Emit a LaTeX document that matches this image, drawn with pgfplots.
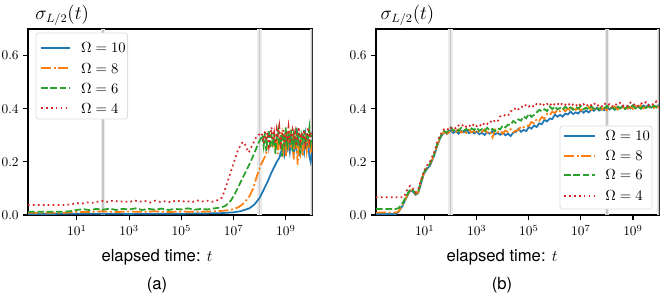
\documentclass[border=0pt]{standalone}
\usepackage{fontspec}
\setmainfont{TeX Gyre Heros}
\usepackage{pgfplots}
\pgfplotsset{compat=1.18}
\definecolor{tabblue}{HTML}{1F77B4}
\definecolor{taborange}{HTML}{FF7F0E}
\definecolor{tabgreen}{HTML}{2CA02C}
\definecolor{tabred}{HTML}{D62728}
\pgfplotsset{
  myaxis/.style={
    scale only axis, width=213pt, height=139.5pt,
    xmin=-0.87, xmax=10, ymin=0, ymax=0.7,
    xtick={1,3,5,7,9},
    xticklabels={$10^{1}$,$10^{3}$,$10^{5}$,$10^{7}$,$10^{9}$},
    ytick={0,0.2,0.4,0.6},
    yticklabel style={/pgf/number format/fixed,/pgf/number format/fixed zerofill,/pgf/number format/precision=1},
    tick pos=left, tick align=outside,
    major tick length=3.5pt,
    every tick/.style={black, line width=0.8pt},
    axis line style={line width=1pt},
    ticklabel style={font=\fontsize{10}{11}\selectfont},
    xticklabel style={yshift=-0.5pt},
  },
  s10/.style={forget plot, draw=tabblue, line width=1.3pt, solid},
  s8/.style={forget plot, draw=taborange, line width=1.3pt, dash pattern=on 7.5pt off 2pt on 1.5pt off 2pt},
  s6/.style={forget plot, draw=tabgreen, line width=1.3pt, dash pattern=on 5pt off 2pt},
  s4/.style={forget plot, draw=tabred, line width=1.3pt, dash pattern=on 1.3pt off 2.4pt},
  gl/.style={forget plot, black!8, line width=3.5pt},
  gd/.style={forget plot, black!22, line width=1.1pt},
  lframe/.style={forget plot, fill=white, draw=black!13, line width=0.6pt, rounded corners=2pt},
}
\tikzset{legtext/.style={anchor=west, font=\fontsize{10.5}{12}\selectfont, inner sep=0pt}}
\begin{document}
\begin{tikzpicture}
\useasboundingbox (0,0) rectangle (498pt,221.25pt);
% ---------------- panel (a)
\begin{axis}[myaxis, at={(21pt,60pt)}, anchor=south west]
\addplot[gl] coordinates {(2,0) (2,0.7)};
\addplot[gd] coordinates {(2,0) (2,0.7)};
\addplot[gl] coordinates {(8,0) (8,0.7)};
\addplot[gd] coordinates {(8,0) (8,0.7)};
\addplot[gl] coordinates {(10,0) (10,0.7)};
\addplot[gd] coordinates {(10,0) (10,0.7)};
\addplot[s10] coordinates {(-0.87,0.004) (0,0.004) (1,0.005) (2,0.005) (3,0.004) (4,0.005) (5,0.005) (6,0.006) (6.5,0.007) (7,0.010) (7.3,0.015) (7.6,0.025) (7.8,0.040) (8.0,0.065) (8.15,0.095) (8.3,0.125) (8.45,0.160) (8.55,0.180) (8.65,0.200) (8.75,0.215) (8.8,0.235) (8.85,0.24) (8.9,0.26) (8.95,0.23) (9.0,0.27) (9.05,0.25) (9.1,0.28) (9.15,0.24) (9.2,0.29) (9.25,0.26) (9.3,0.23) (9.35,0.28) (9.4,0.25) (9.45,0.30) (9.5,0.26) (9.55,0.22) (9.6,0.29) (9.65,0.27) (9.7,0.24) (9.75,0.30) (9.8,0.26) (9.85,0.28) (9.9,0.22) (9.95,0.20) (10,0.24)};
\addplot[s8] coordinates {(-0.87,0.008) (0.5,0.008) (1,0.012) (1.5,0.011) (2,0.014) (2.5,0.011) (3,0.013) (3.5,0.012) (4,0.014) (4.5,0.011) (5,0.013) (5.5,0.012) (6,0.013) (6.5,0.015) (6.8,0.018) (7.0,0.022) (7.2,0.030) (7.4,0.045) (7.6,0.070) (7.75,0.100) (7.9,0.150) (8.05,0.190) (8.2,0.220) (8.3,0.250) (8.4,0.265) (8.5,0.26) (8.55,0.28) (8.6,0.25) (8.65,0.29) (8.7,0.23) (8.75,0.28) (8.8,0.26) (8.85,0.30) (8.9,0.24) (8.95,0.28) (9.0,0.22) (9.05,0.29) (9.1,0.26) (9.15,0.30) (9.2,0.25) (9.25,0.28) (9.3,0.21) (9.35,0.27) (9.4,0.30) (9.45,0.19) (9.5,0.28) (9.55,0.24) (9.6,0.30) (9.65,0.22) (9.7,0.27) (9.75,0.29) (9.8,0.24) (9.85,0.28) (9.9,0.26) (9.95,0.23) (10,0.27)};
\addplot[s6] coordinates {(-0.87,0.012) (0.5,0.012) (0.8,0.015) (1.0,0.019) (1.25,0.022) (1.5,0.018) (1.75,0.023) (2.0,0.020) (2.25,0.024) (2.5,0.019) (2.75,0.023) (3.0,0.021) (3.25,0.025) (3.5,0.019) (3.75,0.023) (4.0,0.020) (4.25,0.024) (4.5,0.019) (4.75,0.023) (5.0,0.021) (5.25,0.025) (5.5,0.020) (5.75,0.023) (6.0,0.021) (6.25,0.025) (6.5,0.028) (6.7,0.035) (6.9,0.055) (7.05,0.080) (7.2,0.110) (7.35,0.140) (7.5,0.170) (7.65,0.200) (7.8,0.235) (7.95,0.270) (8.05,0.290) (8.1,0.30) (8.15,0.26) (8.2,0.31) (8.25,0.24) (8.3,0.29) (8.35,0.32) (8.4,0.25) (8.45,0.30) (8.5,0.27) (8.55,0.31) (8.6,0.23) (8.65,0.29) (8.7,0.32) (8.75,0.26) (8.8,0.30) (8.85,0.22) (8.9,0.31) (8.95,0.27) (9.0,0.33) (9.05,0.25) (9.1,0.30) (9.15,0.28) (9.2,0.32) (9.25,0.24) (9.3,0.30) (9.35,0.27) (9.4,0.33) (9.45,0.26) (9.5,0.31) (9.55,0.23) (9.6,0.30) (9.65,0.28) (9.7,0.32) (9.75,0.25) (9.8,0.31) (9.85,0.29) (9.9,0.33) (9.95,0.27) (10,0.30)};
\addplot[s4] coordinates {(-0.87,0.038) (0.5,0.038) (0.8,0.040) (1.0,0.045) (1.2,0.043) (1.4,0.047) (1.6,0.046) (1.8,0.050) (2.0,0.053) (2.2,0.049) (2.4,0.055) (2.6,0.050) (2.8,0.052) (3.0,0.048) (3.2,0.055) (3.4,0.050) (3.6,0.053) (3.8,0.047) (4.0,0.054) (4.2,0.049) (4.4,0.052) (4.6,0.048) (4.8,0.055) (5.0,0.050) (5.2,0.053) (5.4,0.048) (5.6,0.055) (5.8,0.051) (6.0,0.054) (6.2,0.050) (6.4,0.056) (6.55,0.065) (6.65,0.090) (6.75,0.120) (6.85,0.150) (6.95,0.180) (7.05,0.210) (7.15,0.240) (7.25,0.260) (7.35,0.275) (7.42,0.270) (7.5,0.250) (7.58,0.235) (7.65,0.250) (7.75,0.270) (7.85,0.290) (7.95,0.300) (8.05,0.310) (8.1,0.30) (8.15,0.27) (8.2,0.32) (8.25,0.28) (8.3,0.31) (8.35,0.26) (8.4,0.30) (8.45,0.33) (8.5,0.28) (8.55,0.31) (8.6,0.27) (8.65,0.32) (8.7,0.29) (8.75,0.33) (8.8,0.27) (8.85,0.30) (8.9,0.32) (8.95,0.26) (9.0,0.31) (9.05,0.29) (9.1,0.33) (9.15,0.27) (9.2,0.30) (9.25,0.32) (9.3,0.28) (9.35,0.31) (9.4,0.26) (9.45,0.30) (9.5,0.33) (9.55,0.28) (9.6,0.31) (9.65,0.29) (9.7,0.32) (9.75,0.27) (9.8,0.30) (9.85,0.33) (9.9,0.28) (9.95,0.31) (10,0.30)};
% legend (a)
\addplot[lframe] coordinates {(1.19,0.685) (2.944,0.685) (2.944,0.361) (-0.565,0.361) (-0.565,0.685) (1.19,0.685)};
\addplot[s10] coordinates {(-0.374,0.6296) (0.732,0.6296)};
\addplot[s8] coordinates {(-0.374,0.552) (0.732,0.552)};
\addplot[s6] coordinates {(-0.374,0.4768) (0.732,0.4768)};
\addplot[s4] coordinates {(-0.374,0.4015) (0.732,0.4015)};
\node[legtext] at (axis cs:1.151,0.6296) {$\Omega = 10$};
\node[legtext] at (axis cs:1.151,0.552) {$\Omega = 8$};
\node[legtext] at (axis cs:1.151,0.4768) {$\Omega = 6$};
\node[legtext] at (axis cs:1.151,0.4015) {$\Omega = 4$};
\end{axis}
% ---------------- panel (b)
\begin{axis}[myaxis, at={(282pt,60pt)}, anchor=south west, width=212.25pt]
\addplot[gl] coordinates {(2,0) (2,0.7)};
\addplot[gd] coordinates {(2,0) (2,0.7)};
\addplot[gl] coordinates {(8,0) (8,0.7)};
\addplot[gd] coordinates {(8,0) (8,0.7)};
\addplot[gl] coordinates {(10,0) (10,0.7)};
\addplot[gd] coordinates {(10,0) (10,0.7)};
\addplot[s10] coordinates {(-0.87,0.004) (-0.1,0.004) (0.0,0.012) (0.15,0.035) (0.3,0.065) (0.44,0.092) (0.55,0.088) (0.65,0.076) (0.75,0.082) (0.85,0.115) (0.97,0.155) (1.1,0.175) (1.2,0.185) (1.36,0.222) (1.5,0.265) (1.6,0.29) (1.74,0.312) (1.85,0.305) (1.95,0.318)
(2.0,0.318) (2.1,0.309) (2.2,0.315) (2.3,0.306) (2.4,0.317) (2.5,0.311) (2.6,0.320) (2.7,0.308) (2.8,0.314) (2.9,0.307) (3.0,0.314) (3.1,0.304) (3.2,0.310) (3.3,0.301) (3.4,0.312) (3.5,0.306) (3.6,0.315) (3.7,0.303) (3.8,0.309) (3.9,0.302) (4.0,0.310) (4.1,0.300) (4.2,0.306) (4.3,0.297) (4.4,0.310) (4.5,0.313) (4.6,0.324) (4.7,0.313) (4.8,0.320) (4.9,0.316) (5.0,0.331) (5.1,0.325) (5.2,0.337) (5.3,0.331) (5.4,0.345) (5.5,0.342) (5.6,0.358) (5.7,0.352) (5.8,0.363) (5.9,0.361) (6.0,0.378) (6.1,0.370) (6.2,0.377) (6.3,0.370) (6.4,0.382) (6.5,0.378) (6.6,0.389) (6.7,0.380) (6.8,0.386) (6.9,0.382) (7.0,0.394) (7.1,0.385) (7.2,0.393) (7.3,0.386) (7.4,0.397) (7.5,0.392) (7.6,0.403) (7.7,0.393) (7.8,0.399) (7.9,0.394) (8.0,0.406) (8.1,0.397) (8.2,0.404) (8.3,0.396) (8.4,0.406) (8.5,0.401) (8.6,0.410) (8.7,0.399) (8.8,0.406) (8.9,0.401) (9.0,0.412) (9.1,0.403) (9.2,0.409) (9.3,0.401) (9.4,0.412) (9.5,0.406) (9.6,0.415) (9.7,0.404) (9.8,0.410) (9.9,0.405) (10.0,0.414)};
\addplot[s8] coordinates {(-0.87,0.009) (-0.1,0.009) (0,0.014) (0.15,0.038) (0.3,0.068) (0.44,0.094) (0.55,0.09) (0.65,0.078) (0.75,0.085) (0.85,0.12) (0.97,0.158) (1.1,0.178) (1.2,0.19) (1.36,0.225) (1.5,0.268) (1.6,0.292) (1.74,0.313) (1.85,0.306) (1.95,0.312)
(2.0,0.308) (2.1,0.319) (2.2,0.313) (2.3,0.322) (2.4,0.310) (2.5,0.316) (2.6,0.309) (2.7,0.321) (2.8,0.311) (2.9,0.317) (3.0,0.308) (3.1,0.319) (3.2,0.313) (3.3,0.322) (3.4,0.310) (3.5,0.316) (3.6,0.292) (3.7,0.321) (3.8,0.311) (3.9,0.317) (4.0,0.306) (4.1,0.318) (4.2,0.312) (4.3,0.323) (4.4,0.312) (4.5,0.318) (4.6,0.319) (4.7,0.334) (4.8,0.330) (4.9,0.337) (5.0,0.335) (5.1,0.350) (5.2,0.345) (5.3,0.361) (5.4,0.355) (5.5,0.369) (5.6,0.362) (5.7,0.381) (5.8,0.376) (5.9,0.389) (6.0,0.384) (6.1,0.396) (6.2,0.390) (6.3,0.399) (6.4,0.391) (6.5,0.401) (6.6,0.393) (6.7,0.406) (6.8,0.396) (6.9,0.402) (7.0,0.393) (7.1,0.404) (7.2,0.398) (7.3,0.407) (7.4,0.395) (7.5,0.401) (7.6,0.395) (7.7,0.407) (7.8,0.397) (7.9,0.403) (8.0,0.394) (8.1,0.405) (8.2,0.399) (8.3,0.408) (8.4,0.397) (8.5,0.404) (8.6,0.398) (8.7,0.410) (8.8,0.400) (8.9,0.407) (9.0,0.399) (9.1,0.410) (9.2,0.404) (9.3,0.413) (9.4,0.401) (9.5,0.407) (9.6,0.401) (9.7,0.413) (9.8,0.403) (9.9,0.409) (10.0,0.404)};
\addplot[s6] coordinates {(-0.87,0.023) (-0.1,0.023) (0,0.026) (0.15,0.045) (0.3,0.072) (0.44,0.097) (0.55,0.093) (0.65,0.08) (0.75,0.088) (0.85,0.125) (0.97,0.16) (1.1,0.18) (1.2,0.192) (1.36,0.228) (1.5,0.272) (1.6,0.295) (1.74,0.316) (1.85,0.31) (1.95,0.322)
(2.0,0.329) (2.1,0.317) (2.2,0.323) (2.3,0.316) (2.4,0.328) (2.5,0.318) (2.6,0.324) (2.7,0.315) (2.8,0.326) (2.9,0.320) (3.0,0.329) (3.1,0.317) (3.2,0.323) (3.3,0.316) (3.4,0.328) (3.5,0.318) (3.6,0.324) (3.7,0.315) (3.8,0.326) (3.9,0.322) (4.0,0.337) (4.1,0.330) (4.2,0.340) (4.3,0.339) (4.4,0.354) (4.5,0.347) (4.6,0.360) (4.7,0.355) (4.8,0.371) (4.9,0.364) (5.0,0.381) (5.1,0.369) (5.2,0.377) (5.3,0.386) (5.4,0.396) (5.5,0.390) (5.6,0.398) (5.7,0.391) (5.8,0.408) (5.9,0.398) (6.0,0.409) (6.1,0.397) (6.2,0.403) (6.3,0.396) (6.4,0.408) (6.5,0.398) (6.6,0.405) (6.7,0.396) (6.8,0.407) (6.9,0.401) (7.0,0.410) (7.1,0.398) (7.2,0.404) (7.3,0.397) (7.4,0.409) (7.5,0.399) (7.6,0.406) (7.7,0.397) (7.8,0.408) (7.9,0.402) (8.0,0.411) (8.1,0.399) (8.2,0.405) (8.3,0.398) (8.4,0.410) (8.5,0.401) (8.6,0.407) (8.7,0.399) (8.8,0.410) (8.9,0.404) (9.0,0.413) (9.1,0.401) (9.2,0.408) (9.3,0.400) (9.4,0.412) (9.5,0.403) (9.6,0.410) (9.7,0.401) (9.8,0.412) (9.9,0.406) (10.0,0.415)};
\addplot[s4] coordinates {(-0.87,0.067) (0.2,0.067) (0.28,0.085) (0.36,0.1) (0.44,0.11) (0.55,0.1) (0.65,0.085) (0.75,0.095) (0.85,0.13) (0.97,0.165) (1.1,0.188) (1.2,0.2) (1.36,0.235) (1.5,0.28) (1.6,0.302) (1.74,0.322) (1.85,0.318) (1.95,0.33)
(2.0,0.326) (2.1,0.333) (2.2,0.325) (2.3,0.337) (2.4,0.332) (2.5,0.342) (2.6,0.331) (2.7,0.338) (2.8,0.331) (2.9,0.344) (3.0,0.334) (3.1,0.341) (3.2,0.333) (3.3,0.348) (3.4,0.343) (3.5,0.354) (3.6,0.346) (3.7,0.357) (3.8,0.352) (3.9,0.371) (4.0,0.369) (4.1,0.378) (4.2,0.374) (4.3,0.391) (4.4,0.390) (4.5,0.405) (4.6,0.398) (4.7,0.409) (4.8,0.404) (4.9,0.416) (5.0,0.408) (5.1,0.415) (5.2,0.406) (5.3,0.418) (5.4,0.413) (5.5,0.423) (5.6,0.411) (5.7,0.418) (5.8,0.410) (5.9,0.423) (6.0,0.414) (6.1,0.420) (6.2,0.411) (6.3,0.422) (6.4,0.415) (6.5,0.422) (6.6,0.410) (6.7,0.416) (6.8,0.409) (6.9,0.421) (7.0,0.411) (7.1,0.417) (7.2,0.408) (7.3,0.419) (7.4,0.413) (7.5,0.422) (7.6,0.409) (7.7,0.415) (7.8,0.408) (7.9,0.421) (8.0,0.411) (8.1,0.417) (8.2,0.408) (8.3,0.419) (8.4,0.413) (8.5,0.422) (8.6,0.410) (8.7,0.416) (8.8,0.410) (8.9,0.423) (9.0,0.413) (9.1,0.419) (9.2,0.411) (9.3,0.422) (9.4,0.416) (9.5,0.425) (9.6,0.413) (9.7,0.420) (9.8,0.414) (9.9,0.428) (10.0,0.422)};
% legend (b)
\addplot[lframe] coordinates {(7.96,0.335) (9.731,0.335) (9.731,0.0226) (6.197,0.0226) (6.197,0.335) (7.96,0.335)};
\addplot[s10] coordinates {(6.351,0.2984) (7.542,0.2984)};
\addplot[s8] coordinates {(6.351,0.222) (7.542,0.222)};
\addplot[s6] coordinates {(6.351,0.1505) (7.542,0.1505)};
\addplot[s4] coordinates {(6.351,0.0715) (7.542,0.0715)};
\node[legtext] at (axis cs:7.926,0.2984) {$\Omega = 10$};
\node[legtext] at (axis cs:7.926,0.222) {$\Omega = 8$};
\node[legtext] at (axis cs:7.926,0.1505) {$\Omega = 6$};
\node[legtext] at (axis cs:7.926,0.0715) {$\Omega = 4$};
\end{axis}
% ---------------- labels
\node[anchor=west, font=\fontsize{13.5}{15}\selectfont] at (23pt,210pt) {$\sigma_{L/2}(t)$};
\node[anchor=west, font=\fontsize{13.5}{15}\selectfont] at (282pt,210pt) {$\sigma_{L/2}(t)$};
\node[font=\fontsize{12.5}{15}\selectfont] at (117.75pt,28.5pt) {elapsed time: $t$};
\node[font=\fontsize{12.5}{15}\selectfont] at (376.5pt,28.5pt) {elapsed time: $t$};
\node[font=\fontsize{12.5}{15}\selectfont] at (117.75pt,7.5pt) {(a)};
\node[font=\fontsize{12.5}{15}\selectfont] at (376.5pt,7.5pt) {(b)};
\end{tikzpicture}
\end{document}
